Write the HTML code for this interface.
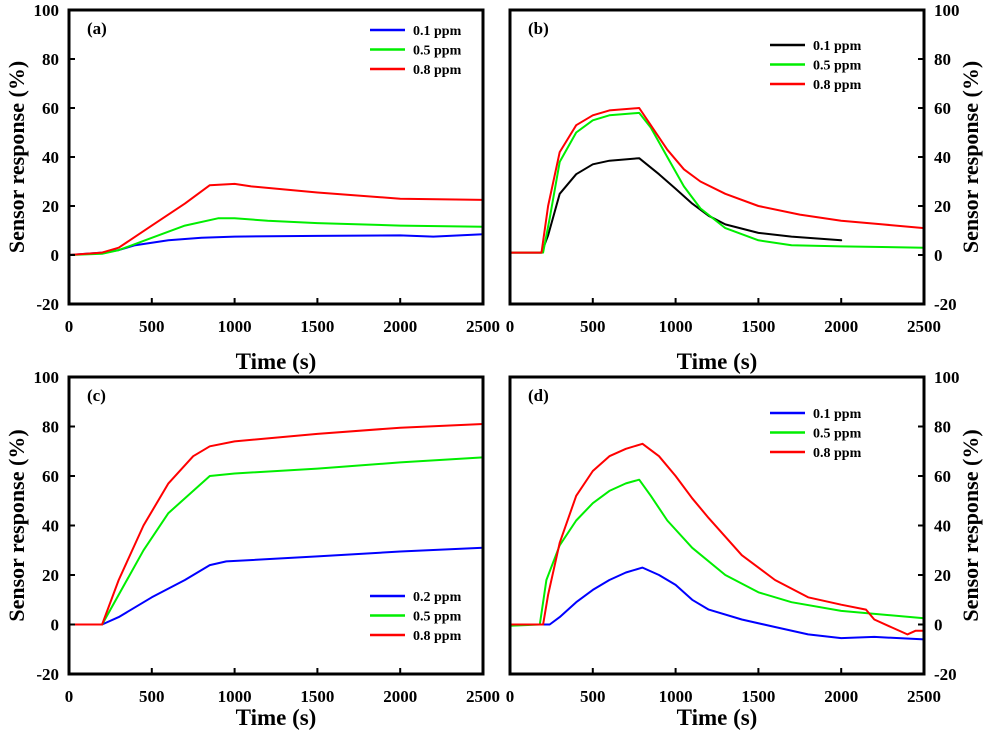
<!DOCTYPE html>
<html><head><meta charset="utf-8">
<style>
html,body{margin:0;padding:0;background:#fff;}
svg{display:block;font-family:"Liberation Serif",serif;font-weight:bold;}
</style></head>
<body>
<svg id="fig" width="1000" height="743" viewBox="0 0 1000 743" xmlns="http://www.w3.org/2000/svg"></svg>
<script>
const xTicks=[0,500,1000,1500,2000,2500];
const yTicks=[-20,0,20,40,60,80,100];
// panel a
const aT01=[0,200,300,400,600,800,1000,1500,2000,2200,2500];
const aV01=[0,1,2,4,6,7,7.5,7.8,8,7.5,8.5];
const aT05=[0,200,300,500,700,900,1000,1200,1500,2000,2500];
const aV05=[0,0.5,2,7,12,15,15,14,13,12,11.5];
const aT08=[0,200,300,500,700,850,1000,1100,1500,2000,2500];
const aV08=[0,1,3,12,21,28.5,29,28,25.5,23,22.5];
// panel b
const bT01=[0,190,230,300,400,500,600,780,900,1000,1100,1200,1300,1500,1700,2000];
const bV01=[1,1,8,25,33,37,38.5,39.5,33,27,21,16,12.5,9,7.5,6];
const bT05=[0,200,240,300,400,500,600,780,850,950,1050,1150,1300,1500,1700,2000,2500];
const bV05=[1,1,15,38,50,55,57,58,52,40,28,19,11,6,4,3.5,3];
const bT08=[0,190,230,300,400,500,600,780,850,950,1050,1150,1300,1500,1750,2000,2250,2500];
const bV08=[1,1,20,42,53,57,59,60,53,43,35,30,25,20,16.5,14,12.5,11];
// panel c
const cT02=[0,200,300,500,700,850,950,1500,2000,2500];
const cV02=[0,0,3,11,18,24,25.5,27.5,29.5,31];
const cT05=[0,200,300,450,600,750,850,1000,1500,2000,2500];
const cV05=[0,0,12,30,45,54,60,61,63,65.5,67.5];
const cT08=[0,200,300,450,600,750,850,1000,1500,2000,2500];
const cV08=[0,0,18,40,57,68,72,74,77,79.5,81];
// panel d
const dT01=[0,240,300,400,500,600,700,800,900,1000,1100,1200,1400,1600,1800,2000,2200,2500];
const dV01=[0,0,3,9,14,18,21,23,20,16,10,6,2,-1,-4,-5.5,-5,-6];
const dT05=[0,180,220,300,400,500,600,700,780,850,950,1100,1300,1500,1700,2000,2500];
const dV05=[-0.5,0,18,32,42,49,54,57,58.5,52,42,31,20,13,9,5.5,2.5];
const dT08=[0,200,230,300,400,500,600,700,800,900,1000,1100,1200,1400,1600,1800,2000,2150,2200,2300,2400,2450,2500];
const dV08=[0,0,12,33,52,62,68,71,73,68,60,51,43,28,18,11,8,6,2,-1,-4,-2.5,-2.5];

const NS="http://www.w3.org/2000/svg";
const svg=document.getElementById('fig');
function el(tag,attrs,parent){const e=document.createElementNS(NS,tag);for(const k in attrs)e.setAttribute(k,attrs[k]);(parent||svg).appendChild(e);return e;}

const panels=[
 {id:'a',x0:69,x1:483,y0:10,y1:304,side:'left',tOff:65,series:[[aT01,aV01,'#0000ff','0.1 ppm'],[aT05,aV05,'#00ee00','0.5 ppm'],[aT08,aV08,'#ff0000','0.8 ppm']],leg:{x:370,y:30}},
 {id:'b',x0:510,x1:924,y0:10,y1:304,side:'right',tOff:65,series:[[bT01,bV01,'#000000','0.1 ppm'],[bT05,bV05,'#00ee00','0.5 ppm'],[bT08,bV08,'#ff0000','0.8 ppm']],leg:{x:770,y:45}},
 {id:'c',x0:69,x1:483,y0:377,y1:674,side:'left',tOff:51,series:[[cT02,cV02,'#0000ff','0.2 ppm'],[cT05,cV05,'#00ee00','0.5 ppm'],[cT08,cV08,'#ff0000','0.8 ppm']],leg:{x:370,y:596}},
 {id:'d',x0:510,x1:924,y0:377,y1:674,side:'right',tOff:51,series:[[dT01,dV01,'#0000ff','0.1 ppm'],[dT05,dV05,'#00ee00','0.5 ppm'],[dT08,dV08,'#ff0000','0.8 ppm']],leg:{x:770,y:413}}
];

panels.forEach(p=>{
 const g=el('g',{});
 
 
 const sx=t=>p.x0+(t/2500)*(p.x1-p.x0);
 const sy=v=>p.y1-((v+20)/120)*(p.y1-p.y0);
 p.series.forEach(s=>{
  const [T,V,c,lab]=s;
  const d=T.map((t,i)=>(i?'L':'M')+sx(t).toFixed(1)+','+sy(V[i]).toFixed(1)).join('');
  const path=el('path',{d:d,fill:'none',stroke:c,'stroke-width':2,'stroke-linejoin':'round','stroke-linecap':'round'},g);
  
  
 });
 const fr=el('rect',{x:p.x0,y:p.y0,width:p.x1-p.x0,height:p.y1-p.y0,fill:'none',stroke:'#000','stroke-width':3},g);
 
 
 xTicks.forEach(t=>{
  el('line',{x1:sx(t),x2:sx(t),y1:p.y1,y2:p.y1-6,stroke:'#000','stroke-width':2},g);
  const tx=el('text',{x:sx(t),y:p.y1+28,'text-anchor':'middle','font-size':17},g);
  tx.textContent=t;
  
  
 });
 yTicks.forEach(v=>{
  if(p.side==='left'){
   el('line',{x1:p.x0,x2:p.x0+6,y1:sy(v),y2:sy(v),stroke:'#000','stroke-width':2},g);
  }else{
   el('line',{x1:p.x1,x2:p.x1-6,y1:sy(v),y2:sy(v),stroke:'#000','stroke-width':2},g);
  }
  const tx=el('text',{x:p.side==='left'?p.x0-10:p.x1+10,y:sy(v)+6,'text-anchor':p.side==='left'?'end':'start','font-size':17},g);
  tx.textContent=v;
  
  
 });
 const pl=el('text',{x:p.x0+18,y:p.y0+24,'font-size':17},g);
 pl.textContent='('+p.id+')';
 
 
 p.series.forEach((s,i)=>{
  const y=p.leg.y+i*19.5;
  const ll=el('line',{x1:p.leg.x,x2:p.leg.x+35,y1:y,y2:y,stroke:s[2],'stroke-width':2.5},g);
  
  
  const lt=el('text',{x:p.leg.x+43,y:y+5,'font-size':14},g);
  lt.textContent=s[3];
  
  
 });
 const xt=el('text',{x:(p.x0+p.x1)/2,y:p.y1+p.tOff,'text-anchor':'middle','font-size':23},g);
 xt.textContent='Time (s)';
 
 
 const yx=p.side==='left'?24:978;
 const yc=(p.y0+p.y1)/2;
 const yt=el('text',{x:yx,y:yc,'text-anchor':'middle','font-size':22,transform:'rotate(-90 '+yx+' '+yc+')'},g);
 yt.textContent='Sensor response (%)';
 
 
});
</script>
</body></html>
